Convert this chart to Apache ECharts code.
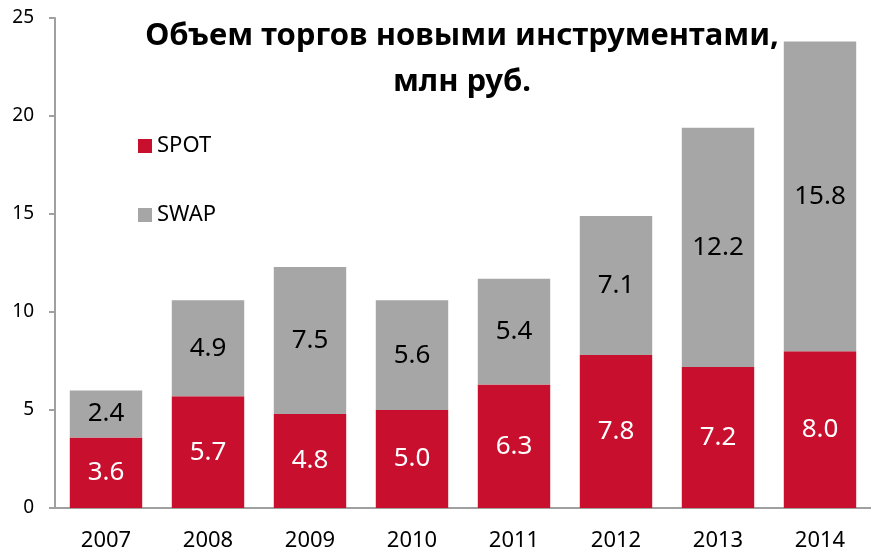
<!DOCTYPE html>
<html>
<head>
<meta charset="utf-8">
<script src="https://cdn.jsdelivr.net/npm/echarts@6/dist/echarts.min.js"></script>
<style>
  html, body { margin: 0; padding: 0; background: #fff; }
  #chart { width: 871px; height: 552px; }
</style>
</head>
<body>
<div id="chart"></div>
<script>
const years = ["2007", "2008", "2009", "2010", "2011", "2012", "2013", "2014"];
const spot = [3.6, 5.7, 4.8, 5.0, 6.3, 7.8, 7.2, 8.0];
const swap = [2.4, 4.9, 7.5, 5.6, 5.4, 7.1, 12.2, 15.8];
const yTicks = [0, 5, 10, 15, 20, 25];

const labelFont = "Noto Sans";
const myChart = echarts.init(document.getElementById("chart"));

myChart.setOption({
  animation: false,
  title: {
    text: "Объем торгов новыми инструментами,\nмлн руб.",
    left: 457,
    top: 8,
    textAlign: "center",
    textStyle: {
      fontFamily: "Noto Sans",
      fontWeight: "bold",
      fontSize: 31,
      lineHeight: 46,
      color: "#000"
    }
  },
  legend: {
    orient: "vertical",
    left: 133,
    top: 130,
    itemWidth: 14,
    itemHeight: 14,
    itemGap: 47,
    icon: "rect",
    data: ["SPOT", "SWAP"],
    textStyle: { fontFamily: labelFont, fontSize: 22, color: "#000", padding: [0, 0, 0, 0] }
  },
  grid: {
    left: 55,
    top: 18,
    width: 824,
    height: 490
  },
  xAxis: {
    type: "category",
    data: years,
    axisLine: { lineStyle: { color: "#a0a0a0", width: 2 } },
    axisTick: { length: 8, lineStyle: { color: "#a0a0a0", width: 2 } },
    axisLabel: { fontFamily: labelFont, fontSize: 22, color: "#000", margin: 22 }
  },
  yAxis: {
    type: "value",
    min: 0,
    max: 25,
    interval: 5,
    axisLine: { show: true, lineStyle: { color: "#a0a0a0", width: 2 } },
    axisTick: { show: true, length: 6, lineStyle: { color: "#a0a0a0", width: 2 } },
    splitLine: { show: false },
    axisLabel: {
      fontFamily: labelFont,
      fontSize: 19,
      color: "#000",
      margin: 21,
      formatter: function (v) { return yTicks.indexOf(v) >= 0 ? String(v) : ""; }
    }
  },
  series: [
    {
      name: "SPOT",
      type: "bar",
      stack: "total",
      data: spot,
      barWidth: "71%",
      itemStyle: { color: "#c8102e" },
      label: {
        show: true,
        position: "inside",
        color: "#fff",
        fontFamily: labelFont,
        fontSize: 26,
        formatter: function (p) { return p.value.toFixed(1); }
      }
    },
    {
      name: "SWAP",
      type: "bar",
      stack: "total",
      data: swap,
      barWidth: "71%",
      itemStyle: { color: "#a6a6a6" },
      label: {
        show: true,
        position: "inside",
        color: "#000",
        fontFamily: labelFont,
        fontSize: 26,
        formatter: function (p) { return p.value.toFixed(1); }
      }
    }
  ]
});
</script>
</body>
</html>
